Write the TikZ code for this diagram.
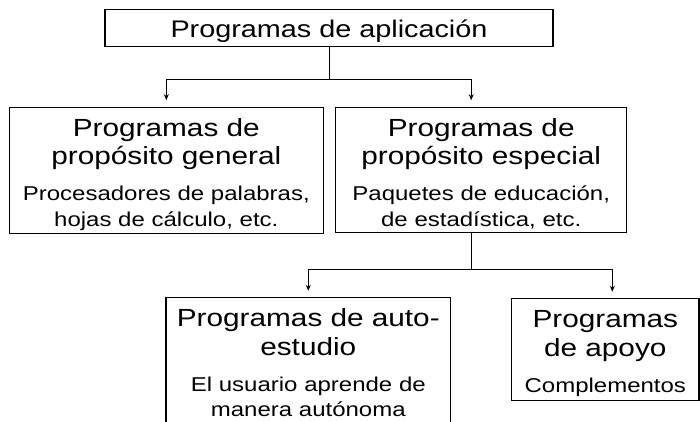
\documentclass[tikz,border=0pt]{standalone}
\usepackage{fontspec}
\setmainfont{Liberation Sans}[FakeStretch=1.2]
\usetikzlibrary{arrows.meta}
\tikzset{
prog/.style={
	  draw, line width=1.1pt, anchor=north, align=center,
	    inner sep=0pt, text height=29pt},
arr/.style={-{Stealth[length=6pt,width=5pt]}, shorten >=6.5pt}
}
\newcommand{\topfont}{\fontsize{24}{28.5}\selectfont\spaceskip=8pt}
\newcommand{\titfont}{\fontsize{24.8}{28.5}\selectfont\spaceskip=8.2pt}
\newcommand{\desfont}{\fontsize{20}{25.5}\selectfont\spaceskip=6.7pt}
\newcommand{\progtext}[2]{{\titfont #1\par}\vspace{10.5pt}{\desfont #2\par}}

\begin{document}
\begin{tikzpicture}[x=1pt, y=-1pt, line width=0.9pt]
	\useasboundingbox (0,0) rectangle (700,421);
	\node[prog, text width=448pt, text height=28pt, text depth=8.7pt] (apl) at (329,9.3)
		{\topfont Programas de aplicación};
	\node[prog, text width=314pt, text depth=97.3pt] (gen) at (166.3,106.7)
		{\progtext{Programas de\\propósito general}{Procesadores de palabras,\\hojas de cálculo, etc.}};
	\node[prog, text width=291pt, text depth=96.3pt] (esp) at (481.2,106.7)
		{\progtext{Programas de\\propósito especial}{Paquetes de educación,\\de estadística, etc.}};
	\node[prog, text width=284.7pt, text depth=113.7pt] (auto) at (308.3,297.3)
		{\progtext{Programas de auto-\\estudio}{El usuario aprende de\\manera autónoma}};
	\node[prog, text width=187.3pt, text depth=72.2pt] (apoyo) at (605.3,298.3)
		{\progtext{Programas\\de apoyo}{Complementos}};
	% ramas
	\coordinate (f1) at ([yshift=-32.3pt]apl.south);
	\coordinate (f2) at ([xshift=-10pt,yshift=-36pt]esp.south);
	\draw (apl.south) -- (f1);
	\draw[arr] (f1) -| (gen.north);
	\draw[arr] (f1) -| ([xshift=-10pt]esp.north);
	\draw ([xshift=-10pt]esp.south) -- (f2);
	\draw[arr] (f2) -| (auto.north);
	\draw[arr] (f2) -| ([xshift=7pt]apoyo.north);
\end{tikzpicture}
\end{document}
